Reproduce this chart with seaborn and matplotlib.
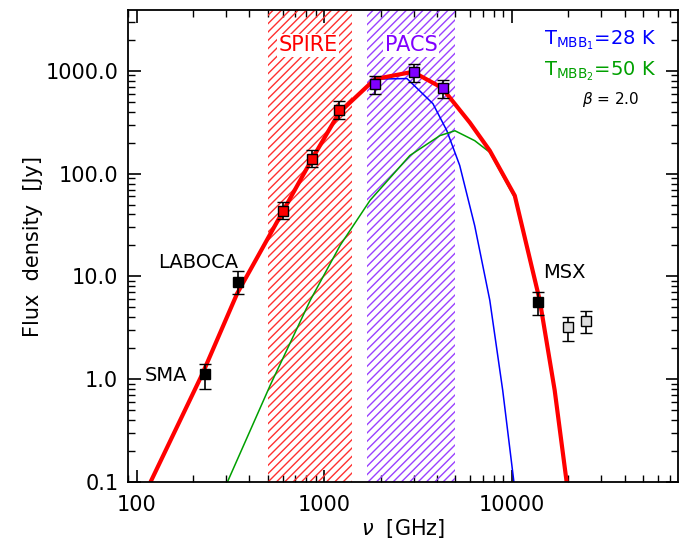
import numpy as np
import seaborn as sns
import matplotlib
matplotlib.use('Agg')
import matplotlib.pyplot as plt
from matplotlib.ticker import FixedLocator, LogLocator, NullFormatter

# model curves (GHz, Jy)
total_nu = [118.7, 224, 344, 598, 853, 1202, 1866, 2972, 4243, 5980, 7640, 10380, 14100, 16940, 19620]
total_s = [0.1, 1.12, 6.84, 41.8, 134, 391, 830, 977, 684, 313, 167, 61, 5.85, 0.78, 0.1]

cold_nu = [118.7, 224, 344, 598, 853, 1202, 1866, 2763, 3800, 4510, 5280, 6350, 7640, 8950, 10270]
cold_s = [0.1, 1.12, 6.84, 41.8, 134, 391, 830, 840, 479, 261, 120, 31, 5.85, 0.78, 0.1]

warm_nu = [305, 516, 843, 1216, 1758, 2864, 4140, 4980, 6350, 7640, 10380, 14100, 16940, 19620]
warm_s = [0.1, 0.875, 5.85, 20, 55, 150, 234, 261, 209, 161, 58, 5.6, 0.75, 0.095]

# photometry
black_nu = [233, 349, 13750]
black_s = [1.12, 8.9, 5.59]
black_lo = [0.80, 6.8, 4.18]
black_hi = [1.40, 11.2, 7.0]

spire_nu = [600, 857, 1200]
spire_s = [43.7, 140, 418]
spire_lo = [36, 117, 343]
spire_hi = [53, 168, 510]

pacs_nu = [1874, 2998, 4283]
pacs_s = [748, 978, 684]
pacs_lo = [598, 782, 547]
pacs_hi = [894, 1169, 818]

open_nu = [19986, 24983]
open_s = [3.2, 3.66]
open_lo = [2.34, 2.8]
open_hi = [4.0, 4.57]

spire_band = (504, 1409)
pacs_band = (1693, 4970)

sns.set_style("ticks")
plt.rcParams['font.family'] = ['DejaVu Sans']
plt.rcParams['mathtext.fontset'] = 'dejavusans'
plt.rcParams['hatch.linewidth'] = 1.0
plt.rcParams['text.color'] = 'black'
plt.rcParams['axes.labelcolor'] = 'black'
plt.rcParams['xtick.color'] = 'black'
plt.rcParams['ytick.color'] = 'black'

fig = plt.figure(figsize=(6.94, 5.47), dpi=100)
ax = fig.add_axes([0.1844, 0.1188, 0.7926, 0.8629])

ax.axvspan(*spire_band, facecolor='none', edgecolor='#ff3030', hatch='////', linewidth=0)
ax.axvspan(*pacs_band, facecolor='none', edgecolor='#9a40ff', hatch='////', linewidth=0)

sns.lineplot(x=cold_nu, y=cold_s, ax=ax, color='#0000ff', linewidth=1.1, sort=False)
sns.lineplot(x=warm_nu, y=warm_s, ax=ax, color='#00a000', linewidth=1.1, sort=False)
sns.lineplot(x=total_nu, y=total_s, ax=ax, color='#ff0000', linewidth=3, sort=False)


def points(nu, s, lo, hi, fc):
    s = np.array(s)
    err = [s - np.array(lo), np.array(hi) - s]
    ax.errorbar(nu, s, yerr=err, fmt='s', ms=7, mfc=fc, mec='black', mew=1,
                ecolor='black', elinewidth=1.2, capsize=4, capthick=1.2, zorder=5)


points(black_nu, black_s, black_lo, black_hi, 'black')
points(spire_nu, spire_s, spire_lo, spire_hi, '#ff0000')
points(pacs_nu, pacs_s, pacs_lo, pacs_hi, '#8000ff')
points(open_nu, open_s, open_lo, open_hi, '#dddddd')

ax.set_xscale('log')
ax.set_yscale('log')
ax.set_xlim(90, 77000)
ax.set_ylim(0.1, 3900)

ax.xaxis.set_major_locator(FixedLocator([100, 1000, 10000]))
ax.set_xticklabels(['100', '1000', '10000'])
ax.xaxis.set_minor_locator(LogLocator(base=10, subs=np.arange(2, 10)))
ax.xaxis.set_minor_formatter(NullFormatter())
ax.yaxis.set_major_locator(FixedLocator([0.1, 1, 10, 100, 1000]))
ax.set_yticklabels(['0.1', '1.0', '10.0', '100.0', '1000.0'])
ax.yaxis.set_minor_locator(LogLocator(base=10, subs=np.arange(2, 10)))
ax.yaxis.set_minor_formatter(NullFormatter())

ax.tick_params(which='both', direction='in', top=True, right=True, labelsize=15)
ax.tick_params(axis='y', pad=7)
ax.tick_params(axis='x', pad=9)
ax.tick_params(which='major', length=9, width=1.2)
ax.tick_params(which='minor', length=5, width=1.0)
for sp in ax.spines.values():
    sp.set_linewidth(1.3)
    sp.set_color('black')

ax.set_xlabel(r'$\nu$  [GHz]', fontsize=15, labelpad=2)
ax.set_ylabel('Flux  density  [Jy]', fontsize=15, labelpad=2)

bb = dict(facecolor='white', edgecolor='none', pad=1)
ax.text(0.327, 0.925, 'SPIRE', color='#ff0000', fontsize=15, transform=ax.transAxes, ha='center', va='center', bbox=bb)
ax.text(0.515, 0.925, 'PACS', color='#8000ff', fontsize=15, transform=ax.transAxes, ha='center', va='center', bbox=bb)

ax.text(0.96, 0.935, r'T$_{\mathrm{MBB}_1}$=28 K', color='#0000ff', fontsize=14, transform=ax.transAxes, ha='right', va='center')
ax.text(0.96, 0.87, r'T$_{\mathrm{MBB}_2}$=50 K', color='#00a000', fontsize=14, transform=ax.transAxes, ha='right', va='center')
ax.text(0.93, 0.81, r'$\beta$ = 2.0', color='black', fontsize=11, transform=ax.transAxes, ha='right', va='center')

ax.text(0.055, 0.465, 'LABOCA', fontsize=14, transform=ax.transAxes, va='center')
ax.text(0.03, 0.225, 'SMA', fontsize=14, transform=ax.transAxes, va='center')
ax.text(0.755, 0.443, 'MSX', fontsize=14, transform=ax.transAxes, va='center')

fig.savefig('out.png', dpi=100)
